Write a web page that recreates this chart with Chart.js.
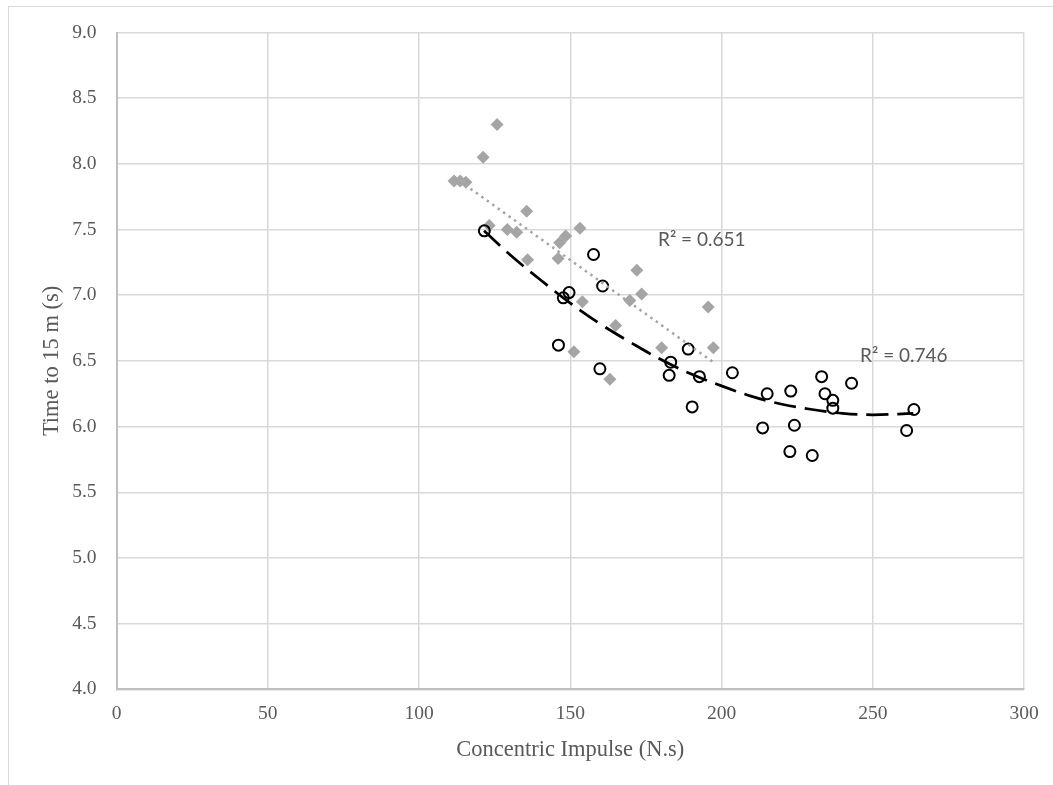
<!DOCTYPE html>
<html>
<head>
<meta charset="utf-8">
<script src="https://cdn.jsdelivr.net/npm/chart.js@4.4.1/dist/chart.umd.min.js"></script>
<style>
  html, body { margin: 0; padding: 0; background: #fff; }
  #grafico { display: block; }
</style>
</head>
<body>
<canvas id="grafico" width="1053" height="785"></canvas>
<script>
// gray diamonds
const impulsoA = [111.6, 113.6, 115.5, 121.2, 125.8, 123.2, 129.2, 132.3, 135.6, 135.9,
                  146.0, 146.5, 148.5, 153.2, 154.0, 151.2, 163.1, 165.0, 172.0, 169.7,
                  173.6, 180.2, 195.6, 197.3];
const tempoA = [7.87, 7.87, 7.86, 8.05, 8.30, 7.53, 7.50, 7.48, 7.64, 7.27,
                7.28, 7.40, 7.45, 7.51, 6.95, 6.57, 6.36, 6.77, 7.19, 6.96,
                7.01, 6.60, 6.91, 6.60];

// black open circles
const impulsoB = [121.6, 157.7, 160.7, 149.6, 147.7, 146.1, 159.8, 189.0, 183.2, 182.7,
                  192.7, 203.6, 190.3, 215.1, 222.9, 213.6, 224.1, 233.1, 234.2, 236.8,
                  236.8, 243.0, 263.6, 261.2, 222.6, 230.0];
const tempoB = [7.49, 7.31, 7.07, 7.02, 6.98, 6.62, 6.44, 6.59, 6.49, 6.39,
                6.38, 6.41, 6.15, 6.25, 6.27, 5.99, 6.01, 6.38, 6.25, 6.20,
                6.14, 6.33, 6.13, 5.97, 5.81, 5.78];

// trend lines
const tendA_x = [111.6, 197.3];
const tendA_y = [7.90, 6.49];
const tendB_x = [121.5, 130, 140, 150, 160, 170, 180, 190, 200, 210, 220, 230, 240, 250, 263.4];
const tendB_y = [7.49, 7.31, 7.12, 6.94, 6.78, 6.64, 6.51, 6.40, 6.31, 6.23, 6.17, 6.13, 6.10, 6.09, 6.10];

const rotulosR2 = ['R² = 0.651', 'R² = 0.746'];
const posR2 = [[179.0, 7.42], [245.8, 6.54]];

function pontos(xs, ys) {
    return xs.map((x, i) => ({ x: x, y: ys[i] }));
}

const moldura = {
    id: 'moldura',
    beforeDraw(chart) {
        const ctx = chart.ctx;
        ctx.save();
        ctx.fillStyle = '#fff';
        ctx.fillRect(0, 0, chart.width, chart.height);
        ctx.strokeStyle = '#d9d9d9';
        ctx.lineWidth = 1;
        ctx.strokeRect(8.5, 6.5, 1200, 1000);
        ctx.restore();
    },
    afterDatasetsDraw(chart) {
        const ctx = chart.ctx;
        const sx = chart.scales.x, sy = chart.scales.y;
        ctx.save();
        ctx.fillStyle = '#595959';
        ctx.font = '19px Lato';
        ctx.textBaseline = 'middle';
        ctx.textAlign = 'left';
        rotulosR2.forEach((t, i) => {
            ctx.fillText(t, sx.getPixelForValue(posR2[i][0]), sy.getPixelForValue(posR2[i][1]));
        });
        ctx.restore();
    }
};

const ctx = document.getElementById('grafico').getContext('2d');
window.chart = new Chart(ctx, {
    type: 'scatter',
    data: {
        datasets: [
            {
                data: pontos(tendB_x, tendB_y),
                showLine: true,
                pointRadius: 0,
                borderColor: '#000',
                borderWidth: 2.75,
                borderDash: [22, 9],
                tension: 0.4,
                order: 0
            },
            {
                data: pontos(tendA_x, tendA_y),
                showLine: true,
                pointRadius: 0,
                borderColor: '#a5a5a5',
                borderWidth: 2.5,
                borderDash: [2.5, 4.2],
                order: 1
            },
            {
                data: pontos(impulsoB, tempoB),
                pointStyle: 'circle',
                pointRadius: 5.5,
                borderColor: '#000',
                borderWidth: 2,
                backgroundColor: 'rgba(0,0,0,0)',
                order: 2
            },
            {
                data: pontos(impulsoA, tempoA),
                pointStyle: 'rectRot',
                pointRadius: 6.5,
                borderWidth: 0,
                backgroundColor: '#a5a5a5',
                borderColor: '#a5a5a5',
                order: 3
            }
        ]
    },
    options: {
        responsive: false,
        animation: false,
        layout: { padding: { top: 32.5, right: 29, left: 0, bottom: 0 } },
        plugins: {
            legend: { display: false },
            tooltip: { enabled: false }
        },
        scales: {
            x: {
                type: 'linear',
                min: 0, max: 300,
                afterFit(scale) { scale.height = 95.7; },
                ticks: {
                    stepSize: 50,
                    padding: 13,
                    color: '#595959',
                    font: { family: 'Liberation Serif', size: 19.5 }
                },
                grid: { color: '#d9d9d9', lineWidth: 1.5, drawTicks: false },
                border: { color: '#bfbfbf', width: 2 },
                title: {
                    display: true,
                    text: 'Concentric Impulse (N.s)',
                    color: '#595959',
                    font: { family: 'Liberation Serif', size: 22.5 },
                    padding: { top: 0, bottom: 21 }
                }
            },
            y: {
                type: 'linear',
                min: 4, max: 9,
                afterFit(scale) { scale.width = 116.5; },
                ticks: {
                    stepSize: 0.5,
                    padding: 20,
                    color: '#595959',
                    font: { family: 'Liberation Serif', size: 19.5 },
                    callback: v => v.toFixed(1)
                },
                grid: { color: '#d9d9d9', lineWidth: 1.5, drawTicks: false },
                border: { color: '#bfbfbf', width: 2 },
                title: {
                    display: true,
                    text: 'Time to 15 m (s)',
                    color: '#595959',
                    font: { family: 'Liberation Serif', size: 22.5 },
                    padding: { top: 39, bottom: 0 }
                }
            }
        }
    },
    plugins: [moldura]
});
</script>
</body>
</html>
